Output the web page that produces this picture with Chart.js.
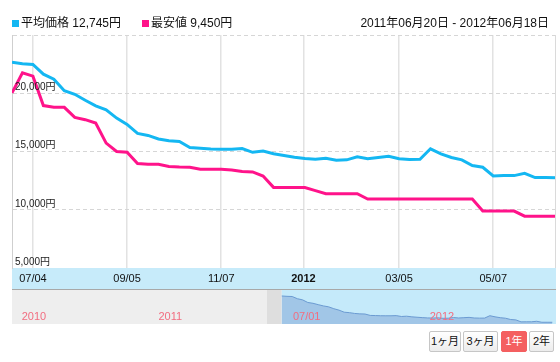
<!DOCTYPE html>
<html>
<head>
<meta charset="utf-8">
<script src="https://cdn.jsdelivr.net/npm/chart.js@4.4.0/dist/chart.umd.min.js"></script>
<style>
body { margin: 0; background: #fff; font-family: "Liberation Sans", "Noto Sans CJK JP", sans-serif; }
#wrap { position: relative; width: 560px; height: 362px; overflow: hidden; }
canvas { position: absolute; left: 0; }
.txt { position: absolute; top: 16px; font-size: 12px; line-height: 15px; color: #111; white-space: nowrap; }
.sq { position: absolute; top: 20px; width: 7px; height: 7px; }
.btn { position: absolute; top: 331px; height: 21px; box-sizing: border-box; line-height: 19px; border: 1px solid #c6c6c6; border-radius: 2px; background: linear-gradient(#fff, #ececec); font-size: 11px; text-align: center; color: #111; white-space: nowrap; padding: 0; }
.btn.on { background: #f45f60; border-color: #f45f60; color: #fff; }
</style>
</head>
<body>
<div id="wrap">
  <canvas id="main" width="560" height="289" style="top:0"></canvas>
  <canvas id="nav" width="560" height="35" style="top:289px"></canvas>
  <div class="sq" style="left:12px;background:#14b7f2"></div>
  <div class="txt" style="left:21px">平均価格 12,745円</div>
  <div class="sq" style="left:142px;background:#ff138a"></div>
  <div class="txt" style="left:151px">最安値 9,450円</div>
  <div class="txt" style="right:11px">2011年06月20日 - 2012年06月18日</div>
  <div class="btn" style="left:429px;width:32px">1ヶ月</div>
  <div class="btn" style="left:463px;width:35px">3ヶ月</div>
  <div class="btn on" style="left:501px;width:26px">1年</div>
  <div class="btn" style="left:529px;width:25px">2年</div>
</div>
<script>
// weekly samples (Mondays)
const weeks = [
  '2011-06-20','2011-06-27','2011-07-04','2011-07-11','2011-07-18','2011-07-25','2011-08-01','2011-08-08',
  '2011-08-15','2011-08-22','2011-08-29','2011-09-05','2011-09-12','2011-09-19','2011-09-26','2011-10-03',
  '2011-10-10','2011-10-17','2011-10-24','2011-10-31','2011-11-07','2011-11-14','2011-11-21','2011-11-28',
  '2011-12-05','2011-12-12','2011-12-19','2011-12-26','2012-01-02','2012-01-09','2012-01-16','2012-01-23',
  '2012-01-30','2012-02-06','2012-02-13','2012-02-20','2012-02-27','2012-03-05','2012-03-12','2012-03-19',
  '2012-03-26','2012-04-02','2012-04-09','2012-04-16','2012-04-23','2012-04-30','2012-05-07','2012-05-14',
  '2012-05-21','2012-05-28','2012-06-04','2012-06-11','2012-06-18'
];
const avgPrice = [
  22670, 22540, 22470, 21640, 21200, 20220, 19910, 19400, 18920, 18580, 17870, 17330, 16550, 16380,
  16080, 15920, 15860, 15340, 15285, 15216, 15198, 15198, 15259, 14931, 15043, 14802, 14655, 14509,
  14397, 14336, 14422, 14250, 14284, 14543, 14371, 14483, 14595, 14371, 14310, 14336, 15233, 14802,
  14483, 14284, 13793, 13647, 12905, 12931, 12931, 13130, 12759, 12759, 12745
];
const minPrice = [
  20030, 21750, 21470, 18940, 18790, 18790, 17930, 17730, 17440, 15720, 15000, 14940, 13970, 13900,
  13900, 13710, 13660, 13650, 13470, 13470, 13470, 13420, 13280, 13250, 12890, 11920, 11920, 11920,
  11900, 11640, 11380, 11380, 11380, 11380, 10920, 10920, 10920, 10920, 10920, 10920, 10920, 10920,
  10920, 10920, 10920, 9890, 9890, 9890, 9890, 9450, 9450, 9450, 9450
];
const tickDates = ['2011-07-04', '2011-09-05', '2011-11-07', '2012-01-01', '2012-03-05', '2012-05-07'];
const tickLabels = ['07/04', '09/05', '11/07', '2012', '03/05', '05/07'];
const yTicks = [5000, 10000, 15000, 20000, 25000];
const navDates = ['2010-07-01', '2011-01-01', '2011-07-01', '2012-01-01'];
const navLabels = ['2010', '2011', '07/01', '2012'];

const fontFamily = '"Liberation Sans", "Noto Sans CJK JP", sans-serif';
Chart.defaults.font.family = fontFamily;

const day0 = Date.parse('2011-06-20');
const dayOf = s => Math.round((Date.parse(s) - day0) / 864e5);
const tickDays = tickDates.map(dayOf);
const pts = arr => weeks.map((w, i) => ({ x: dayOf(w), y: arr[i] }));

const bandPlugin = {
  id: 'band',
  beforeDraw(chart) {
    const { ctx, chartArea: a } = chart;
    ctx.save();
    ctx.fillStyle = '#c7ebfa';
    ctx.fillRect(a.left, a.bottom, a.right - a.left, 21);
    ctx.restore();
  },
  afterDatasetsDraw(chart) {
    const { ctx, chartArea: a, scales } = chart;
    ctx.save();
    ctx.strokeStyle = '#dadada';
    ctx.lineWidth = 1;
    ctx.beginPath();
    ctx.moveTo(a.right - 0.5, a.top);
    ctx.lineTo(a.right - 0.5, a.bottom);
    ctx.stroke();
    ctx.font = '10px ' + fontFamily;
    ctx.fillStyle = '#222';
    ctx.textBaseline = 'bottom';
    scales.y.ticks.forEach(t => {
      if (t.value >= 25000) return;
      const y = scales.y.getPixelForValue(t.value);
      ctx.fillText(t.value.toLocaleString('en-US') + '円', a.left + 3, y - 1);
    });
    ctx.restore();
  }
};

new Chart(document.getElementById('main'), {
  type: 'line',
  data: {
    datasets: [
      { label: '平均価格', data: pts(avgPrice), borderColor: '#14b7f2' },
      { label: '最安値', data: pts(minPrice), borderColor: '#ff138a' }
    ]
  },
  options: {
    responsive: false,
    animation: false,
    devicePixelRatio: 1,
    layout: { padding: { left: 12, right: 4, top: 35, bottom: 0 } },
    plugins: { legend: { display: false }, tooltip: { enabled: false } },
    elements: { point: { radius: 0 }, line: { tension: 0, borderWidth: 3 } },
    scales: {
      x: {
        type: 'linear', min: 0, max: 364,
        afterBuildTicks: s => { s.ticks = tickDays.map(v => ({ value: v })); },
        afterFit: s => { s.height = 21; },
        grid: { color: '#e2e2e2', lineWidth: 1.5, drawTicks: false },
        border: { display: false },
        ticks: {
          padding: 4, color: '#111', autoSkip: false, maxRotation: 0,
          font: c => ({ size: 11, weight: c.tick && c.tick.value === dayOf('2012-01-01') ? 'bold' : 'normal' }),
          callback: v => tickLabels[tickDays.indexOf(v)]
        }
      },
      y: {
        min: 5000, max: 25000,
        afterBuildTicks: s => { s.ticks = yTicks.map(v => ({ value: v })); },
        afterFit: s => { s.width = 0; },
        grid: { color: c => (c.tick && c.tick.value === 5000) ? 'rgba(0,0,0,0)' : '#d6d6d6', drawTicks: false },
        border: { display: true, color: '#cfcfcf', width: 1, dash: [4, 3] },
        ticks: { display: false }
      }
    }
  },
  plugins: [bandPlugin]
});

const navPlugin = {
  id: 'navBack',
  beforeDraw(chart) {
    const { ctx, chartArea: a, scales } = chart;
    const sel = scales.x.getPixelForValue(0);
    ctx.save();
    ctx.fillStyle = '#eeeeee';
    ctx.fillRect(a.left, 0, sel - 15 - a.left, 35);
    ctx.fillStyle = '#dedede';
    ctx.fillRect(sel - 15, 0, 15, 35);
    ctx.fillStyle = '#c5eafa';
    ctx.fillRect(sel, 0, a.right - sel, 35);
    ctx.strokeStyle = '#a8a8a8';
    ctx.lineWidth = 1;
    ctx.beginPath();
    ctx.moveTo(a.left, 0.5);
    ctx.lineTo(a.right, 0.5);
    ctx.stroke();
    ctx.restore();
  },
  afterDraw(chart) {
    const { ctx, scales } = chart;
    ctx.save();
    ctx.font = '11px ' + fontFamily;
    ctx.fillStyle = '#f26d80';
    ctx.textBaseline = 'middle';
    navDates.forEach((d, i) => {
      ctx.fillText(navLabels[i], scales.x.getPixelForValue(dayOf(d)) + 3, 28);
    });
    ctx.restore();
  }
};

new Chart(document.getElementById('nav'), {
  type: 'line',
  data: {
    datasets: [{ data: pts(avgPrice), borderColor: '#6b9bd2', borderWidth: 1, backgroundColor: '#a1c6e7', fill: 'start' }]
  },
  options: {
    responsive: false,
    animation: false,
    devicePixelRatio: 1,
    layout: { padding: { left: 12, right: 4, top: 0, bottom: 0 } },
    plugins: { legend: { display: false }, tooltip: { enabled: false } },
    elements: { point: { radius: 0 }, line: { tension: 0 } },
    scales: {
      x: { type: 'linear', min: -363, max: 369, display: false },
      y: { min: 12100, max: 25300, display: false }
    }
  },
  plugins: [navPlugin]
});
</script>
</body>
</html>
